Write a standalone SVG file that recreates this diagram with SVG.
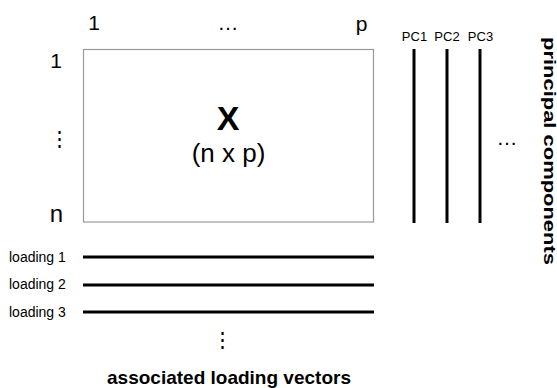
<svg xmlns="http://www.w3.org/2000/svg" width="557" height="388" viewBox="0 0 557 388">
<style>
text{font-family:"Liberation Sans",Arial,sans-serif;fill:#000}
.lab{font-size:21px}
.pc{font-size:13px}
.sm{font-size:14px}
.bold{font-weight:bold}
.thick{stroke:#000;stroke-width:3;fill:none}
</style>
<rect width="557" height="388" fill="#fff"/>
<g id="matrix">
<rect x="83.5" y="49.5" width="290" height="172.5" fill="#fff" stroke="#999" stroke-width="1.2"/>
<text x="228" y="130" text-anchor="middle" class="bold" style="font-size:34px">X</text>
<text x="228.5" y="161.5" text-anchor="middle" style="font-size:26px">(n x p)</text>
</g>
<g id="col-labels">
<text class="lab" x="94" y="30" text-anchor="middle">1</text>
<text class="lab" x="228" y="30" text-anchor="middle">…</text>
<text class="lab" x="361.5" y="31" text-anchor="middle">p</text>
</g>
<g id="row-labels">
<text class="lab" x="56" y="68" text-anchor="middle">1</text>
<text class="lab" x="59" y="146" text-anchor="middle">⋮</text>
<text class="lab" x="56.5" y="222" text-anchor="middle" style="font-size:24px">n</text>
</g>
<g id="pcs">
<text class="pc" x="414.5" y="41" text-anchor="middle">PC1</text>
<text class="pc" x="447" y="41" text-anchor="middle">PC2</text>
<text class="pc" x="480.5" y="41" text-anchor="middle">PC3</text>
<line class="thick" x1="414" y1="49" x2="414" y2="223"/>
<line class="thick" x1="447" y1="49" x2="447" y2="223"/>
<line class="thick" x1="480" y1="49" x2="480" y2="223"/>
<text class="lab" x="507" y="145" text-anchor="middle">…</text>
<text class="bold" transform="translate(543.5,37) rotate(90)" x="0" y="0" textLength="228" lengthAdjust="spacingAndGlyphs" style="font-size:16px">principal components</text>
</g>
<g id="loadings">
<text class="sm" x="9" y="262">loading 1</text>
<text class="sm" x="9" y="289">loading 2</text>
<text class="sm" x="9" y="317">loading 3</text>
<line class="thick" x1="83" y1="257" x2="374" y2="257"/>
<line class="thick" x1="83" y1="285" x2="374" y2="285"/>
<line class="thick" x1="83" y1="312" x2="374" y2="312"/>
<text class="lab" x="222" y="347" text-anchor="middle">⋮</text>
<text class="bold" x="229" y="384" text-anchor="middle" style="font-size:19px">associated loading vectors</text>
</g>
</svg>
